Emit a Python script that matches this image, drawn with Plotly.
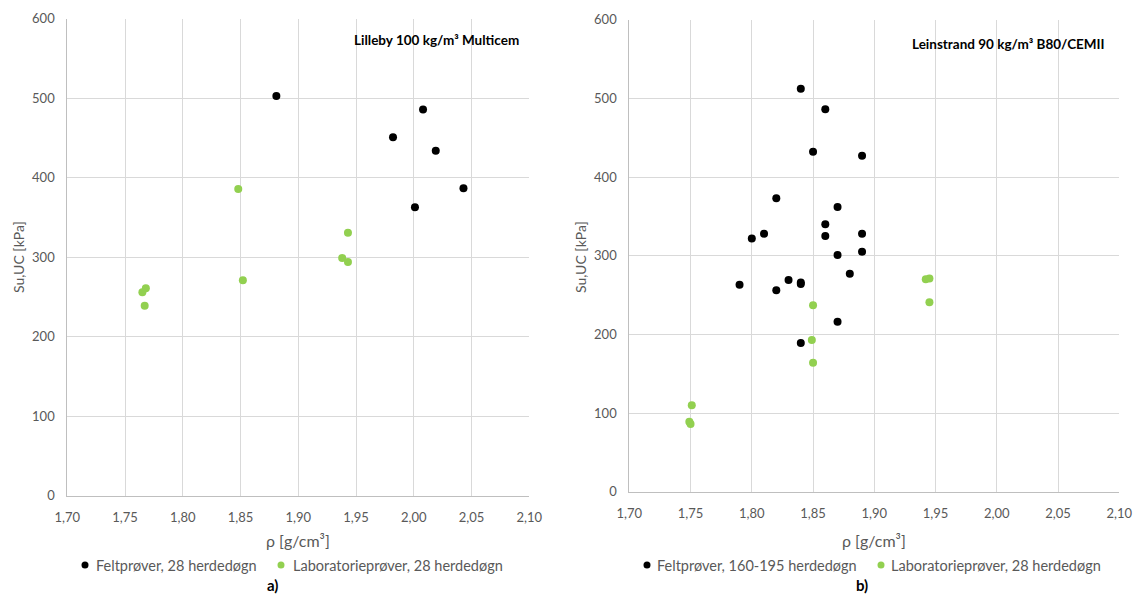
import plotly.graph_objects as go
from plotly.subplots import make_subplots

# Panel a) Lilleby
a_felt_rho = [1.881, 2.008, 1.982, 2.019, 2.043, 2.001]
a_felt_su = [503, 486, 451, 434, 387, 363]
a_lab_rho = [1.848, 1.943, 1.938, 1.943, 1.852, 1.768, 1.765, 1.767]
a_lab_su = [386, 331, 299, 294, 271, 261, 256, 239]

# Panel b) Leinstrand
b_felt_rho = [1.84, 1.86, 1.85, 1.89, 1.82, 1.87, 1.86, 1.86, 1.89, 1.81, 1.80,
              1.89, 1.87, 1.88, 1.83, 1.84, 1.84, 1.79, 1.82, 1.87, 1.84]
b_felt_su = [512, 486, 432, 427, 373, 362, 340, 325, 328, 328, 322,
             305, 301, 277, 269, 266, 264, 263, 256, 216, 189]
b_lab_rho = [1.850, 1.849, 1.942, 1.945, 1.945, 1.850, 1.751, 1.749, 1.750]
b_lab_su = [237, 193, 270, 271, 241, 164, 110, 89, 86]

x_ticks = [1.70, 1.75, 1.80, 1.85, 1.90, 1.95, 2.00, 2.05, 2.10]
y_ticks = [0, 100, 200, 300, 400, 500, 600]

legend_a = ["Feltprøver, 28 herdedøgn", "Laboratorieprøver, 28 herdedøgn"]
legend_b = ["Feltprøver, 160-195 herdedøgn", "Laboratorieprøver, 28 herdedøgn"]

W, H = 1138, 594
BLACK = "#000000"
GREEN = "#92D050"
FONT = "Lato"
TICKC = "#595959"

fig = make_subplots(rows=1, cols=2)

fig.add_trace(go.Scatter(x=a_felt_rho, y=a_felt_su, mode="markers", name=legend_a[0],
                         marker=dict(color=BLACK, size=8)), row=1, col=1)
fig.add_trace(go.Scatter(x=a_lab_rho, y=a_lab_su, mode="markers", name=legend_a[1],
                         marker=dict(color=GREEN, size=8)), row=1, col=1)
fig.add_trace(go.Scatter(x=b_felt_rho, y=b_felt_su, mode="markers", name=legend_b[0],
                         marker=dict(color=BLACK, size=8)), row=1, col=2)
fig.add_trace(go.Scatter(x=b_lab_rho, y=b_lab_su, mode="markers", name=legend_b[1],
                         marker=dict(color=GREEN, size=8)), row=1, col=2)


def px_x(p):
    return p / W


def px_y(p):
    return 1 - p / H


xaxis_common = dict(range=[1.70, 2.10], tickvals=x_ticks, tickformat=".2f",
                    showgrid=True, gridcolor="#d9d9d9", gridwidth=1,
                    showline=True, linecolor="#bfbfbf", linewidth=1,
                    zeroline=False, ticks="", ticklabelstandoff=10,
                    tickfont=dict(family=FONT, size=13, color=TICKC))
yaxis_common = dict(range=[0, 600], tickvals=y_ticks,
                    showgrid=True, gridcolor="#d9d9d9", gridwidth=1,
                    showline=True, linecolor="#bfbfbf", linewidth=1,
                    zeroline=False, ticks="", ticklabelstandoff=9,
                    tickfont=dict(family=FONT, size=13, color=TICKC))

fig.update_xaxes(**xaxis_common)
fig.update_yaxes(**yaxis_common)

fig.update_layout(
    xaxis=dict(domain=[px_x(67.3), px_x(529.3)]),
    yaxis=dict(domain=[px_y(495.8), px_y(18.8)]),
    xaxis2=dict(domain=[px_x(629.3), px_x(1119.3)]),
    yaxis2=dict(domain=[px_y(491.8), px_y(19.6)]),
)

fig.update_layout(
    width=W, height=H,
    margin=dict(l=0, r=0, t=0, b=0, autoexpand=False),
    paper_bgcolor="white", plot_bgcolor="white",
    separators=", ",
    font=dict(family=FONT, color=TICKC),
    showlegend=False,
)


def text_ann(text, x, y, size, color=TICKC, xanchor="center", angle=0):
    return dict(text=text, x=px_x(x), y=px_y(y), xref="paper", yref="paper",
                xanchor=xanchor, yanchor="middle", textangle=angle, showarrow=False,
                font=dict(family=FONT, size=size, color=color))


ann = []
# y axis titles
ann.append(text_ann("Su,UC [kPa]", 18, 257, 14, angle=-90))
ann.append(text_ann("Su,UC [kPa]", 580, 257, 14, angle=-90))
# x axis titles
ann.append(text_ann("ρ [g/cm³]", 298, 540, 16))
ann.append(text_ann("ρ [g/cm³]", 874, 540, 16))
# panel labels
ann.append(text_ann("<b>a)</b>", 272, 585, 15, color="#000000"))
ann.append(text_ann("<b>b)</b>", 862, 585, 15, color="#000000"))
# chart titles
ann.append(text_ann("<b>Lilleby 100 kg/m³ Multicem</b>", 521, 40, 13.5, color="#000000", xanchor="right"))
ann.append(text_ann("<b>Leinstrand 90 kg/m³ B80/CEMII</b>", 1107, 44, 13.5, color="#000000", xanchor="right"))

# custom legends (dot + text)
legend_items = [
    (85, 94, legend_a[0], BLACK),
    (281, 291, legend_a[1], GREEN),
    (647, 655, legend_b[0], BLACK),
    (881, 889, legend_b[1], GREEN),
]
shapes = []
LEG_Y = 565
for dot_x, text_x, label, col in legend_items:
    ann.append(text_ann(label, text_x, LEG_Y, 14.5, xanchor="left"))
    r = 3.5
    shapes.append(dict(type="circle", xref="paper", yref="paper",
                       x0=px_x(dot_x - r), x1=px_x(dot_x + r),
                       y0=px_y(LEG_Y + r), y1=px_y(LEG_Y - r),
                       fillcolor=col, line=dict(width=0)))

fig.update_layout(annotations=ann, shapes=shapes)

fig.write_html("out.html", config={"displayModeBar": False},
               post_script="document.body.style.margin='0px';")
